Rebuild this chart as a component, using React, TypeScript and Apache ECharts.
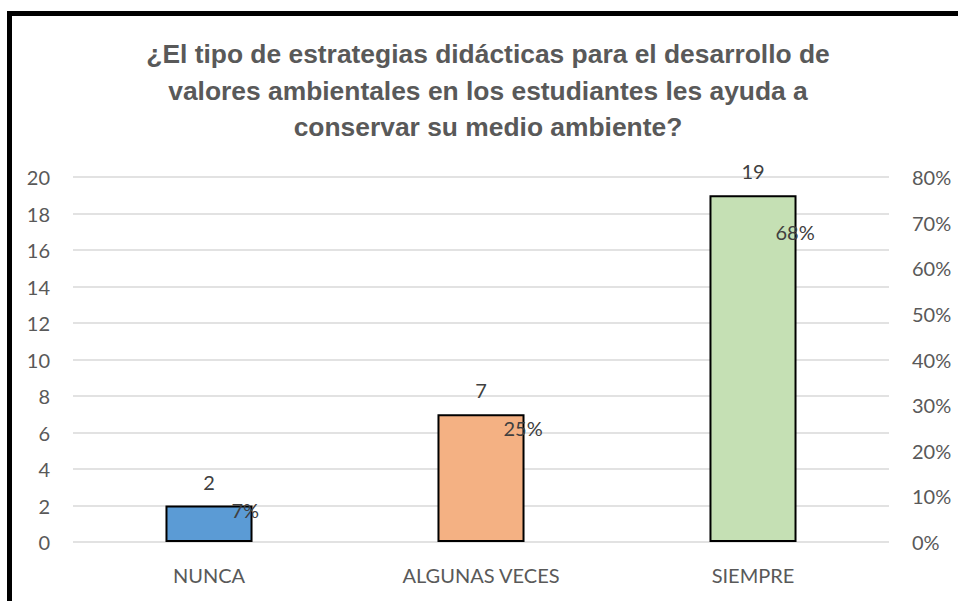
import React, { useEffect, useRef } from "react";
import * as echarts from "echarts";

const categories = ["NUNCA", "ALGUNAS VECES", "SIEMPRE"];
const counts = [2, 7, 19];
const percents = [0.07, 0.25, 0.68];
const barColors = ["#5B9BD5", "#F4B183", "#C5E0B4"];
const titleLines = [
  "¿El tipo de estrategias didácticas para el desarrollo de",
  "valores ambientales en los estudiantes les ayuda a",
  "conservar su medio ambiente?",
];

export default function App() {
  const ref = useRef<HTMLDivElement>(null);
  useEffect(() => {
    if (!ref.current) return;
    const chart = echarts.init(ref.current, null, { renderer: "svg" });
    const font = "Lato, 'Open Sans', sans-serif";
    chart.setOption({
      animation: false,
      backgroundColor: "#ffffff",
      graphic: [
        { type: "line", shape: { x1: 9.5, y1: 13.5, x2: 9.5, y2: 601 }, style: { stroke: "#000", lineWidth: 5 } },
        { type: "line", shape: { x1: 7, y1: 13.5, x2: 958, y2: 13.5 }, style: { stroke: "#000", lineWidth: 5 } },
        {
          type: "text",
          x: 488,
          y: 36,
          style: {
            text: titleLines.join("\n"),
            align: "center",
            verticalAlign: "top",
            font: "bold 26.4px 'Liberation Sans', Arial, sans-serif",
            lineHeight: 36.5,
            fill: "#595959",
          },
        },
      ],
      grid: { left: 73, right: 69, top: 177, bottom: 59 },
      xAxis: {
        type: "category",
        data: categories,
        axisLine: { show: false },
        axisTick: { show: false },
        axisLabel: { color: "#595959", fontSize: 20, fontFamily: font, margin: 23 },
      },
      yAxis: [
        {
          type: "value",
          min: 0,
          max: 20,
          interval: 2,
          axisLine: { show: false },
          axisTick: { show: false },
          splitLine: { lineStyle: { color: "#d9d9d9", width: 1.5 } },
          axisLabel: { color: "#595959", fontSize: 20, fontFamily: font, margin: 23 },
        },
        {
          type: "value",
          min: 0,
          max: 0.8,
          interval: 0.1,
          position: "right",
          axisLine: { show: false },
          axisTick: { show: false },
          splitLine: { show: false },
          axisLabel: {
            color: "#595959",
            fontSize: 20,
            fontFamily: font,
            margin: 23,
            formatter: (v: number) => Math.round(v * 100) + "%",
          },
        },
      ],
      series: [
        {
          type: "bar",
          yAxisIndex: 0,
          barWidth: "32%",
          data: counts.map((v, i) => ({
            value: v,
            itemStyle: { color: barColors[i], borderColor: "#000", borderWidth: 2 },
          })),
          label: {
            show: true,
            position: "top",
            distance: 14,
            color: "#404040",
            fontSize: 20,
            fontFamily: font,
          },
        },
        {
          type: "line",
          yAxisIndex: 1,
          data: percents,
          lineStyle: { opacity: 0 },
          symbol: "circle",
          symbolSize: 1,
          itemStyle: { color: "rgba(0,0,0,0)" },
          label: {
            show: true,
            position: "right",
            distance: 22,
            color: "#404040",
            fontSize: 20,
            fontFamily: font,
            formatter: (p: any) => Math.round(p.value * 100) + "%",
          },
          z: 5,
        },
      ],
    });
    return () => chart.dispose();
  }, []);
  return (
    <div
      ref={ref}
      style={{ position: "absolute", left: 0, top: 0, width: 958, height: 601 }}
    />
  );
}
